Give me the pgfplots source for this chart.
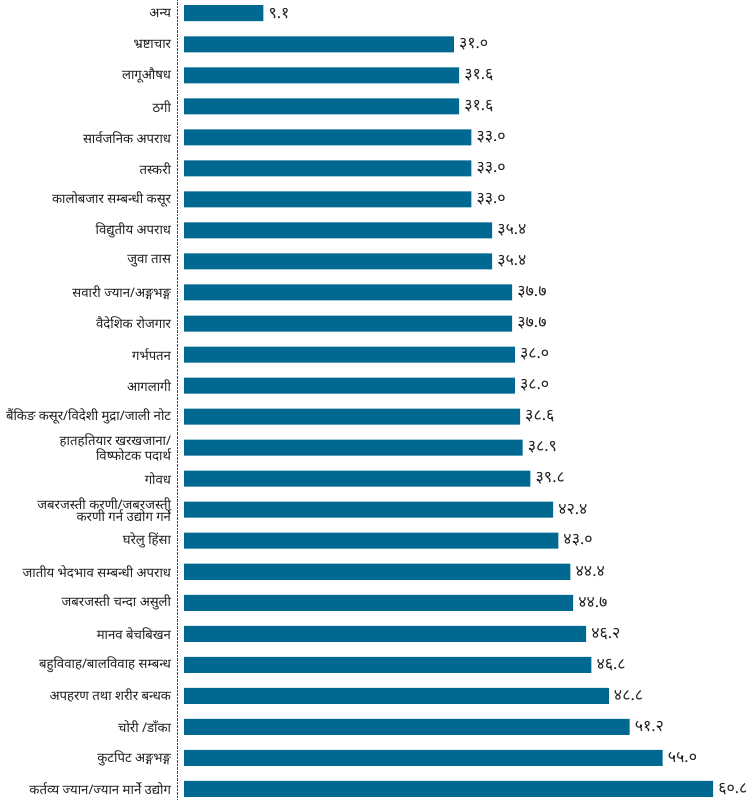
\documentclass[border=0pt]{standalone}
\usepackage{fontspec}
\setmainfont{Noto Sans}[Script=Devanagari]
\usepackage{pgfplots}
\pgfplotsset{compat=1.18}
\definecolor{barblue}{HTML}{006891}
\definecolor{txt}{HTML}{222222}

\begin{document}
\begin{tikzpicture}
\begin{axis}[
    xbar,
    scale only axis,
    width=572bp, height=799bp,
    xmin=-0.8, xmax=65,
    ymin=-0.42, ymax=25.35,
    y dir=reverse,
    axis x line=none,
    axis y line=left,
    y axis line style={-, densely dotted, black!70},
    ytick={0,...,25},
    yticklabels={
        अन्य, भ्रष्टाचार, लागूऔषध, ठगी, सार्वजनिक अपराध, तस्करी,
        कालोबजार सम्बन्धी कसूर, विद्युतीय अपराध, जुवा तास,
        सवारी ज्यान/अङ्गभङ्ग, वैदेशिक रोजगार, गर्भपतन, आगलागी,
        बैंकिङ कसूर/विदेशी मुद्रा/जाली नोट,
        {हातहतियार खरखजाना/\\विष्फोटक पदार्थ},
        गोवध,
        {जबरजस्ती करणी/जबरजस्ती\\करणी गर्न उद्योग गर्ने},
        घरेलु हिंसा, जातीय भेदभाव सम्बन्धी अपराध, जबरजस्ती चन्दा असुली,
        मानव बेचबिखन, बहुविवाह/बालविवाह सम्बन्ध, अपहरण तथा शरीर बन्धक,
        चोरी /डाँका, कुटपिट अङ्गभङ्ग, कर्तव्य ज्यान/ज्यान मार्ने उद्योग},
    major tick length=0pt,
    yticklabel style={align=right, text=txt, inner xsep=6bp, inner ysep=1bp,
        font=\fontsize{13.2}{12.5}\selectfont},
    bar width=16bp,
    nodes near coords,
    point meta=explicit symbolic,
    every node near coord/.append style={anchor=west, text=txt,
        font=\fontsize{16}{16}\selectfont, inner xsep=5bp},
]
\addplot[fill=barblue, draw=none] coordinates {
    (9.1,0) [९.१]
    (31.0,1) [३१.०]
    (31.6,2) [३१.६]
    (31.6,3) [३१.६]
    (33.0,4) [३३.०]
    (33.0,5) [३३.०]
    (33.0,6) [३३.०]
    (35.4,7) [३५.४]
    (35.4,8) [३५.४]
    (37.7,9) [३७.७]
    (37.7,10) [३७.७]
    (38.0,11) [३८.०]
    (38.0,12) [३८.०]
    (38.6,13) [३८.६]
    (38.9,14) [३८.९]
    (39.8,15) [३९.८]
    (42.4,16) [४२.४]
    (43.0,17) [४३.०]
    (44.4,18) [४४.४]
    (44.7,19) [४४.७]
    (46.2,20) [४६.२]
    (46.8,21) [४६.८]
    (48.8,22) [४८.८]
    (51.2,23) [५१.२]
    (55.0,24) [५५.०]
    (60.8,25) [६०.८]
};
\end{axis}
\end{tikzpicture}
\end{document}
